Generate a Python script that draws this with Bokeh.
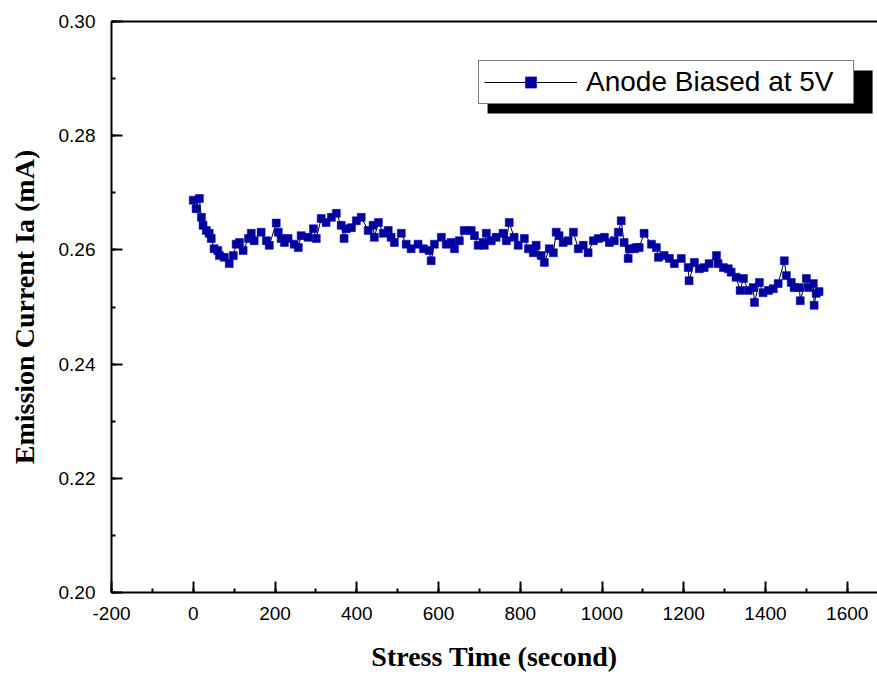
from bokeh.plotting import figure
from bokeh.models import (SingleIntervalTicker, PrintfTickFormatter, NumeralTickFormatter, LinearAxis,
                          FixedTicker, Legend, LegendItem, BoxAnnotation, Range1d)
from bokeh.embed import file_html
from bokeh.resources import INLINE

# ---- data ----
time_s = [0, 7, 15, 20, 24, 32, 39, 44, 51, 60, 64, 76, 88, 98, 105, 113, 122, 135, 142, 149,
          166, 179, 186, 203, 208, 215, 223, 232, 247, 257, 264, 281, 294, 301, 313, 325, 338, 350,
          362, 369, 374, 387, 399, 411, 428, 440, 443, 453, 465, 477, 484, 492, 509, 521, 533, 550,
          563, 577, 582, 590, 607, 619, 631, 639, 651, 663, 680, 688, 697, 709, 712, 717, 729, 741,
          758, 766, 773, 785, 795, 810, 820, 832, 839, 851, 859, 871, 881, 888, 895, 905, 917, 930,
          942, 954, 966, 979, 991, 1006, 1018, 1030, 1040, 1047, 1054, 1064, 1067, 1079, 1084, 1091,
          1103, 1121, 1133, 1138, 1152, 1165, 1177, 1194, 1211, 1213, 1226, 1238, 1250, 1262, 1280,
          1284, 1297, 1309, 1316, 1328, 1338, 1346, 1358, 1370, 1373, 1385, 1394, 1407, 1419, 1431,
          1446, 1451, 1463, 1470, 1483, 1485, 1500, 1505, 1517, 1519, 1524, 1531]
current_mA = [0.2687, 0.2672, 0.2690, 0.2657, 0.2643, 0.2634, 0.2629, 0.2620, 0.2602, 0.2599,
              0.2590, 0.2587, 0.2576, 0.2590, 0.2610, 0.2613, 0.2599, 0.2620, 0.2629, 0.2616,
              0.2631, 0.2616, 0.2608, 0.2647, 0.2631, 0.2620, 0.2613, 0.2620, 0.2610, 0.2604,
              0.2625, 0.2622, 0.2637, 0.2620, 0.2655, 0.2648, 0.2657, 0.2664, 0.2643, 0.2620,
              0.2637, 0.2639, 0.2651, 0.2657, 0.2634, 0.2643, 0.2622, 0.2648, 0.2629, 0.2634,
              0.2622, 0.2613, 0.2629, 0.2610, 0.2602, 0.2610, 0.2602, 0.2599, 0.2581, 0.2610,
              0.2622, 0.2610, 0.2613, 0.2602, 0.2616, 0.2634, 0.2634, 0.2625, 0.2608, 0.2613,
              0.2608, 0.2629, 0.2616, 0.2622, 0.2629, 0.2616, 0.2648, 0.2622, 0.2608, 0.2620,
              0.2602, 0.2595, 0.2608, 0.2590, 0.2578, 0.2602, 0.2595, 0.2631, 0.2625, 0.2613,
              0.2616, 0.2631, 0.2602, 0.2608, 0.2595, 0.2616, 0.2620, 0.2622, 0.2613, 0.2616,
              0.2631, 0.2651, 0.2613, 0.2585, 0.2602, 0.2602, 0.2604, 0.2604, 0.2629, 0.2610,
              0.2604, 0.2587, 0.2590, 0.2585, 0.2576, 0.2585, 0.2569, 0.2546, 0.2578, 0.2567,
              0.2569, 0.2576, 0.2590, 0.2576, 0.2569, 0.2567, 0.2561, 0.2552, 0.2529, 0.2550,
              0.2529, 0.2534, 0.2508, 0.2543, 0.2525, 0.2529, 0.2532, 0.2541, 0.2581, 0.2555,
              0.2543, 0.2534, 0.2534, 0.2511, 0.2550, 0.2534, 0.2541, 0.2503, 0.2524, 0.2527]
series_label = "Anode Biased at 5V"
x_title = "Stress Time (second)"
y_title = "Emission Current Ia (mA)"

# ---- layout / style ----
X_START, X_END = -200, 1674
Y_START, Y_END = 0.20, 0.30
MARKER_COLOR = "#0000A0"
TICK_FONT = "Liberation Sans"
TITLE_FONT = "Liberation Serif"

p = figure(width=877, height=675, output_backend="svg", toolbar_location=None,
           x_range=Range1d(X_START, X_END), y_range=Range1d(Y_START, Y_END),
           min_border_left=111, min_border_right=0, min_border_top=21, min_border_bottom=83,
           x_axis_label=x_title, y_axis_label=y_title)
p.outline_line_color = None
p.grid.visible = False
p.background_fill_color = "white"
p.border_fill_color = "white"

for ax in (p.xaxis[0], p.yaxis[0]):
    ax.axis_line_color = "black"
    ax.axis_line_width = 2
    ax.major_tick_line_color = "black"
    ax.major_tick_line_width = 2
    ax.minor_tick_line_color = "black"
    ax.minor_tick_line_width = 2
    ax.major_tick_in = 11
    ax.major_tick_out = 0
    ax.minor_tick_in = 4
    ax.minor_tick_out = 0
    ax.major_label_text_font = TICK_FONT
    ax.major_label_text_font_size = "19px"
    ax.major_label_text_color = "black"
    ax.axis_label_text_font = TITLE_FONT
    ax.axis_label_text_font_style = "bold"
    ax.axis_label_text_font_size = "28px"
    ax.axis_label_text_color = "black"

p.xaxis[0].ticker = SingleIntervalTicker(interval=200, num_minor_ticks=2)
p.xaxis[0].formatter = NumeralTickFormatter(format="0")
p.yaxis[0].ticker = SingleIntervalTicker(interval=0.02, num_minor_ticks=2)
p.yaxis[0].formatter = PrintfTickFormatter(format="%.2f")
p.xaxis[0].major_label_standoff = 14
p.xaxis[0].axis_label_standoff = 18
p.yaxis[0].major_label_standoff = 16
p.yaxis[0].axis_label_standoff = 16

# top frame line only (right side is cut off in the reference)
top = LinearAxis(ticker=FixedTicker(ticks=[]), major_label_text_font_size="0px",
                 axis_line_color="black", axis_line_width=2,
                 major_tick_line_color=None, minor_tick_line_color=None)
p.add_layout(top, "above")

line_r = p.line(time_s, current_mA, line_color="black", line_width=1)
pts_r = p.scatter(time_s, current_mA, marker="square", size=8,
                  fill_color=MARKER_COLOR, line_color=MARKER_COLOR, line_width=0.5)

# legend shadow (data units)
shadow = BoxAnnotation(left=720, right=1662, top=0.29142, bottom=0.28389,
                       fill_color="black", fill_alpha=1.0, line_color=None)
p.add_layout(shadow)

legend = Legend(items=[LegendItem(label=series_label, renderers=[line_r, pts_r])],
                location=(367, 488), orientation="vertical",
                padding=5, margin=0, spacing=0,
                glyph_width=93, glyph_height=28, label_standoff=9, label_width=262,
                label_text_font=TICK_FONT, label_text_font_size="28px", label_text_color="black",
                border_line_color="black", border_line_width=1.5,
                background_fill_color="white", background_fill_alpha=1.0)
p.add_layout(legend, "center")

open("out.html", "w").write(file_html(p, INLINE))
